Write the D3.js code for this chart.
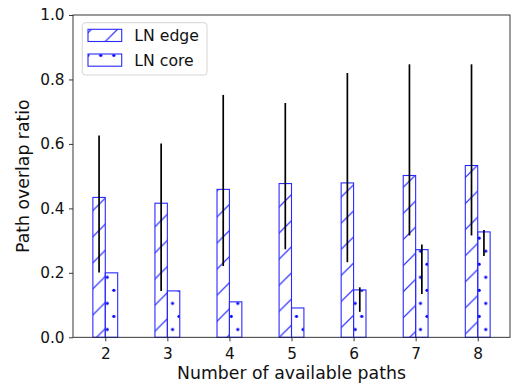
<!DOCTYPE html>
<html>
<head>
<meta charset="utf-8">
<script src="https://cdn.jsdelivr.net/npm/d3@7"></script>
<style>
  body { margin: 0; background: white; }
  svg { display: block; font-family: "DejaVu Sans", sans-serif; }
</style>
</head>
<body>
<svg id="chart" width="511" height="386"></svg>
<script>
// Values
let paths = [2, 3, 4, 5, 6, 7, 8]
let edge_mean = [0.434, 0.416, 0.459, 0.477, 0.479, 0.502, 0.533]
let edge_low = [0.201, 0.144, 0.221, 0.273, 0.233, 0.316, 0.316]
let edge_high = [0.626, 0.601, 0.752, 0.727, 0.820, 0.847, 0.847]
let core_mean = [0.200, 0.144, 0.110, 0.091, 0.147, 0.272, 0.327]
let core_low = [0.200, 0.144, 0.110, 0.091, 0.079, 0.134, 0.252]
let core_high = [0.200, 0.144, 0.110, 0.091, 0.155, 0.288, 0.333]
let y_ticks = [0, 0.2, 0.4, 0.6, 0.8, 1.0]
let series_names = ['LN edge', 'LN core']

let tick_size = 15.3
let label_size = 17.3
let legend_size = 15.7
let bar_blue = '#2a2aff'
let bar_w = 0.2
let plot = { left: 73, right: 510, top: 15, bottom: 337.3 }

let svg = d3.select('#chart')

let x = d3.scaleLinear().domain([1.48, 8.52]).range([plot.left, plot.right])
let y = d3.scaleLinear().domain([0, 1]).range([plot.bottom, plot.top])

// Hatch patterns, tiled in page space like matplotlib does
let defs = svg.append('defs')
let cell = 78.3
let hs = cell / 3
let hatch = defs.append('pattern')
  .attr('id', 'hatch-slash')
  .attr('patternUnits', 'userSpaceOnUse')
  .attr('width', hs)
  .attr('height', hs)
for (let c of [16.3 - hs, 16.3, 16.3 + hs]) {
  hatch.append('line')
    .attr('x1', -5).attr('y1', c + 5)
    .attr('x2', c + 5).attr('y2', -5)
    .style('stroke', bar_blue)
    .style('stroke-width', 1.2)
}

let ds = cell / 6
let dots = defs.append('pattern')
  .attr('id', 'hatch-dots')
  .attr('patternUnits', 'userSpaceOnUse')
  .attr('width', ds)
  .attr('height', ds * 2)
for (let [cx, cy] of [[2.9, 16.3], [2.9 + ds / 2, 16.3 - ds], [2.9 - ds / 2, 16.3 - ds]]) {
  dots.append('circle')
    .attr('cx', cx).attr('cy', cy).attr('r', 1.6)
    .style('fill', 'blue')
}

// Bars
let edge_g = svg.append('g')
edge_g.selectAll('rect')
  .data(paths)
  .enter()
  .append('rect')
  .attr('x', (d) => x(d - bar_w))
  .attr('y', (d, i) => y(edge_mean[i]))
  .attr('width', x(bar_w) - x(0))
  .attr('height', (d, i) => y(0) - y(edge_mean[i]))
  .style('fill', 'url(#hatch-slash)')
  .style('stroke', bar_blue)
  .style('stroke-width', 1.1)

let core_g = svg.append('g')
core_g.selectAll('rect')
  .data(paths)
  .enter()
  .append('rect')
  .attr('x', (d) => x(d))
  .attr('y', (d, i) => y(core_mean[i]))
  .attr('width', x(bar_w) - x(0))
  .attr('height', (d, i) => y(0) - y(core_mean[i]))
  .style('fill', 'url(#hatch-dots)')
  .style('stroke', bar_blue)
  .style('stroke-width', 1.1)

// Error bars
let err_g = svg.append('g')
err_g.selectAll('line.edge')
  .data(paths)
  .enter()
  .append('line')
  .attr('class', 'edge')
  .attr('x1', (d) => x(d - bar_w / 2))
  .attr('x2', (d) => x(d - bar_w / 2))
  .attr('y1', (d, i) => y(edge_low[i]))
  .attr('y2', (d, i) => y(edge_high[i]))
  .style('stroke', 'black')
  .style('stroke-width', 1.7)

err_g.selectAll('line.core')
  .data(paths)
  .enter()
  .append('line')
  .attr('class', 'core')
  .attr('x1', (d) => x(d + bar_w / 2))
  .attr('x2', (d) => x(d + bar_w / 2))
  .attr('y1', (d, i) => y(core_low[i]))
  .attr('y2', (d, i) => y(core_high[i]))
  .style('stroke', 'black')
  .style('stroke-width', 1.7)

// Axes
let x_axis = svg.append('g')
  .attr('transform', `translate(0, ${plot.bottom})`)
  .call(d3.axisBottom(x).tickValues(paths).tickFormat(d3.format('d')).tickSize(4).tickPadding(6.5))
let y_axis = svg.append('g')
  .attr('transform', `translate(${plot.left}, 0)`)
  .call(d3.axisLeft(y).tickValues(y_ticks).tickFormat(d3.format('.1f')).tickSize(4).tickPadding(4.5))

for (let ax of [x_axis, y_axis]) {
  ax.select('.domain').remove()
  ax.selectAll('.tick line').style('stroke', '#222').style('stroke-width', 0.9)
  ax.selectAll('.tick text')
    .style('font-family', '"DejaVu Sans", sans-serif')
    .style('font-size', tick_size + 'px')
    .style('fill', '#111')
}

// Frame
svg.append('rect')
  .attr('x', plot.left)
  .attr('y', plot.top)
  .attr('width', plot.right - plot.left)
  .attr('height', plot.bottom - plot.top)
  .style('fill', 'none')
  .style('stroke', '#222')
  .style('stroke-width', 0.9)

// Axis labels
svg.append('text')
  .attr('x', (plot.left + plot.right) / 2)
  .attr('y', 379)
  .attr('text-anchor', 'middle')
  .style('font-size', label_size + 'px')
  .style('fill', '#111')
  .text('Number of available paths')

svg.append('text')
  .attr('transform', `translate(28.5, ${(plot.top + plot.bottom) / 2}) rotate(-90)`)
  .attr('text-anchor', 'middle')
  .style('font-size', label_size + 'px')
  .style('fill', '#111')
  .text('Path overlap ratio')

// Legend
let legend = svg.append('g')
legend.append('rect')
  .attr('x', 82.3)
  .attr('y', 22.7)
  .attr('width', 124.7)
  .attr('height', 52.3)
  .attr('rx', 3)
  .style('fill', 'white')
  .style('fill-opacity', 0.8)
  .style('stroke', '#d6d6d6')
  .style('stroke-width', 1)

let legend_fill = ['url(#hatch-slash)', 'url(#hatch-dots)']
series_names.forEach(function(name, i) {
  let top = 29.3 + i * 24.7
  legend.append('rect')
    .attr('x', 88)
    .attr('y', top)
    .attr('width', 33.7)
    .attr('height', 12.2)
    .style('fill', legend_fill[i])
    .style('stroke', bar_blue)
    .style('stroke-width', 1.1)
  legend.append('text')
    .attr('x', 134.3)
    .attr('y', top + 6.2)
    .attr('dy', '0.36em')
    .style('font-size', legend_size + 'px')
    .style('fill', '#111')
    .text(name)
})
</script>
</body>
</html>
